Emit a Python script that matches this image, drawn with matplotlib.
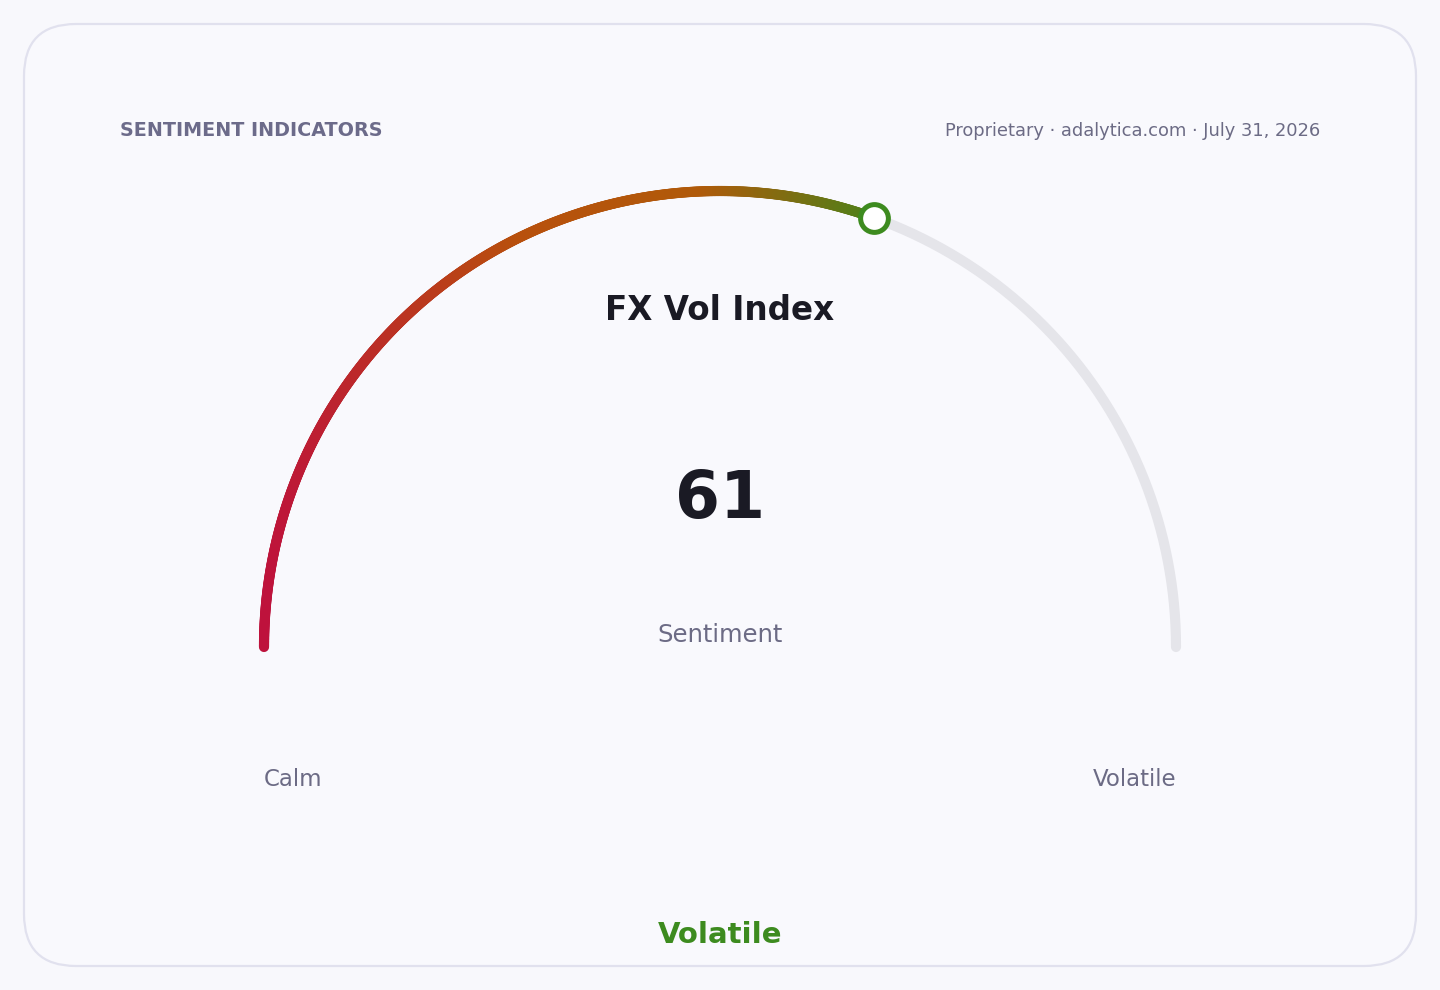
import numpy as np
import matplotlib
matplotlib.use("Agg")
import matplotlib.pyplot as plt
from matplotlib.patches import FancyBboxPatch
from matplotlib.collections import LineCollection
from matplotlib.colors import LinearSegmentedColormap

# ---- data ----
title = "FX Vol Index"
value = 61
vmin, vmax = 0, 100
value_label = "Sentiment"
min_label = "Calm"
max_label = "Volatile"
state_label = "Volatile"
header_left = "SENTIMENT INDICATORS"
header_right = "Proprietary · adalytica.com · July 31, 2026"

W, H = 1440, 990
fig = plt.figure(figsize=(W / 100, H / 100), dpi=100)
fig.patch.set_facecolor("#f8f8fc")
ax = fig.add_axes([0, 0, 1, 1])
ax.set_xlim(0, W)
ax.set_ylim(H, 0)
ax.set_aspect("equal")
ax.axis("off")

card = FancyBboxPatch((24, 24), 1392, 942, boxstyle="round,pad=0,rounding_size=52",
                      facecolor="#f9f9fd", edgecolor="#e1e1ee", linewidth=1.6, zorder=0)
ax.add_patch(card)

cx, cy, R = 720, 647, 456
lw = 7.3

def pt(v):
    th = np.pi * (1 - (v - vmin) / (vmax - vmin))
    return cx + R * np.cos(th), cy - R * np.sin(th)

# track
vs = np.linspace(vmin, vmax, 400)
tx, ty = pt(vs)
ax.plot(tx, ty, color="#e5e5ea", lw=lw, solid_capstyle="round", zorder=1)

# value arc with gradient
vv = np.linspace(vmin, value, 600)
px, py = pt(vv)
pts = np.column_stack([px, py])
segs = np.stack([pts[:-1], pts[1:]], axis=1)
cmap = LinearSegmentedColormap.from_list(
    "g", [(0.0, "#be123c"), (0.42, "#b8500c"), (0.72, "#b05a0a"), (1.0, "#4f8019")])
xm = (segs[:, 0, 0] + segs[:, 1, 0]) / 2
frac = (xm - px.min()) / (px.max() - px.min())
lc = LineCollection(segs, colors=cmap(frac), linewidths=lw, capstyle="round", zorder=2)
ax.add_collection(lc)

# marker
mx, my = pt(value)
ax.plot([mx], [my], marker="o", ms=20, mfc="white", mec="#3d8b1f", mew=3.6, zorder=3)

# texts
ax.text(120, 131, header_left, fontsize=13.8, fontweight="bold", color="#6c6b8a",
        ha="left", va="center")
ax.text(1320, 131, header_right, fontsize=12.9, color="#6c6b85", ha="right", va="center")
ax.text(cx, 311, title, fontsize=23.5, fontweight="bold", color="#1a1a24",
        ha="center", va="center")
ax.text(cx, 500, f"{value}", fontsize=46.5, fontweight="bold", color="#1a1a24",
        ha="center", va="center")
ax.text(cx, 635, value_label, fontsize=17.5, color="#6c6b85", ha="center", va="center")
ax.text(264, 780, min_label, fontsize=16.5, color="#6c6b85", ha="left", va="center")
ax.text(1176, 780, max_label, fontsize=16.5, color="#6c6b85", ha="right", va="center")
ax.text(cx, 935, state_label, fontsize=21, fontweight="bold", color="#3d8b1f",
        ha="center", va="center")

fig.savefig("out.png", dpi=100, facecolor=fig.get_facecolor())
